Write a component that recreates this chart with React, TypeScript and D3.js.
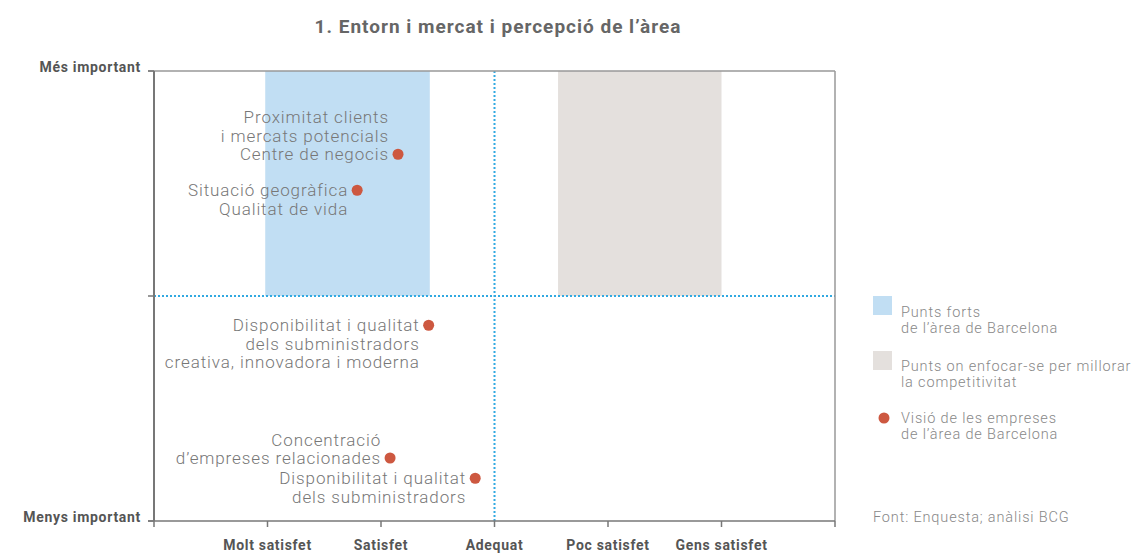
import React from "react";
import * as d3 from "d3";

const title = "1. Entorn i mercat i percepció de l’àrea";
const xTickLabels = ["Molt satisfet", "Satisfet", "Adequat", "Poc satisfet", "Gens satisfet"];
const xTickValues = [1, 2, 3, 4, 5];
const yTickLabels = ["Menys important", "", "Més important"];
const yTickValues = [0, 1, 2];

// shaded zones [x0, x1, y0, y1]
const strengthZone = [0.98, 2.43, 1, 2];
const focusZone = [3.56, 5, 1, 2];

// points: satisfaction (x), importance (y)
const pointX = [2.15, 1.79, 2.42, 2.08, 2.83];
const pointY = [1.63, 1.47, 0.87, 0.28, 0.19];
const pointLabels = [
  ["Proximitat clients", "i mercats potencials", "Centre de negocis"],
  ["Situació geogràfica", "Qualitat de vida"],
  ["Disponibilitat i qualitat", "dels subministradors", "creativa, innovadora i moderna"],
  ["Concentració", "d’empreses relacionades"],
  ["Disponibilitat i qualitat", "dels subministradors"],
];
// which label line sits level with the point
const pointAnchorLine = [2, 0, 0, 1, 0];

const legendLabels = [
  ["Punts forts", "de l’àrea de Barcelona"],
  ["Punts on enfocar-se per millorar", "la competitivitat"],
  ["Visió de les empreses", "de l’àrea de Barcelona"],
];
const sourceText = "Font: Enquesta; anàlisi BCG";

export default function App() {
  const W = 1140, H = 553;
  const left = 154, right = 835, top = 71, bottom = 521;
  const x = d3.scaleLinear().domain([0, 6]).range([left, right]);
  const y = d3.scaleLinear().domain([0, 2]).range([bottom, top]);
  const font = "Roboto, 'DejaVu Sans', sans-serif";
  const dotColor = "#31a9e1";
  const red = "#cd5840";
  const lineH = 18.5;

  return (
    <svg width={W} height={H} style={{ position: "absolute", left: 0, top: 0, background: "#fff" }} fontFamily={font}>
      <text x={498} y={33} textAnchor="middle" fontSize={19} fontWeight={700} fill="#666" letterSpacing={1}>{title}</text>

      {/* zones */}
      <rect x={x(strengthZone[0])} y={y(strengthZone[3])} width={x(strengthZone[1]) - x(strengthZone[0])} height={y(strengthZone[2]) - y(strengthZone[3])} fill="#c1def3" />
      <rect x={x(focusZone[0])} y={y(focusZone[3])} width={x(focusZone[1]) - x(focusZone[0])} height={y(focusZone[2]) - y(focusZone[3])} fill="#e4e0dd" />

      {/* dotted center lines */}
      <line x1={x(3)} x2={x(3)} y1={y(2)} y2={y(0)} stroke={dotColor} strokeWidth={2} strokeDasharray="2,2" />
      <line x1={x(0)} x2={x(6)} y1={y(1)} y2={y(1)} stroke={dotColor} strokeWidth={2} strokeDasharray="2,2" />

      {/* frame */}
      <line x1={left - 6} x2={right} y1={top} y2={top} stroke="#999" strokeWidth={1.5} />
      <line x1={right} x2={right} y1={top} y2={bottom} stroke="#999" strokeWidth={1.5} />
      <line x1={left} x2={left} y1={top} y2={bottom} stroke="#777" strokeWidth={2} />
      <line x1={left - 6} x2={right} y1={bottom} y2={bottom} stroke="#777" strokeWidth={1.5} />

      {/* y ticks */}
      {yTickValues.map((v, i) => (
        <g key={"yt" + i}>
          <line x1={left - 6} x2={left} y1={y(v)} y2={y(v)} stroke="#777" strokeWidth={1.5} />
          {yTickLabels[i] && (
            <text x={141} y={y(v) + 1} textAnchor="end" fontSize={14} fontWeight={700} fill="#555" letterSpacing={0.7}>{yTickLabels[i]}</text>
          )}
        </g>
      ))}

      {/* x ticks */}
      {x.ticks(6).map((v) => (
        <line key={"xt" + v} x1={x(v)} x2={x(v)} y1={bottom} y2={bottom + 6} stroke="#777" strokeWidth={1.5} />
      ))}
      {xTickValues.map((v, i) => (
        <text key={"xl" + i} x={x(v)} y={550} textAnchor="middle" fontSize={14} fontWeight={700} fill="#555" letterSpacing={0.7}>{xTickLabels[i]}</text>
      ))}

      {/* points and labels */}
      {pointX.map((px, i) => {
        const cx = x(px), cy = y(pointY[i]);
        const a = pointAnchorLine[i];
        return (
          <g key={"p" + i}>
            <circle cx={cx} cy={cy} r={5.5} fill={red} />
            {pointLabels[i].map((t, j) => (
              <text key={j} x={cx - 9} y={cy + 6 + (j - a) * lineH} textAnchor="end" fontSize={17} fontWeight={300} fill="#777" letterSpacing={0.9}>{t}</text>
            ))}
          </g>
        );
      })}

      {/* legend */}
      <rect x={873} y={296} width={19} height={19} fill="#c1def3" />
      <rect x={873} y={351} width={19} height={19} fill="#e4e0dd" />
      <circle cx={884} cy={418} r={5.5} fill={red} />
      {legendLabels.map((lines, i) => (
        <g key={"lg" + i}>
          {lines.map((t, j) => (
            <text key={j} x={901} y={[317, 371, 423][i] + j * 16} fontSize={14.5} fontWeight={300} fill="#888" letterSpacing={0.85}>{t}</text>
          ))}
        </g>
      ))}
      <text x={873} y={522} fontSize={14.5} fontWeight={300} fill="#888" letterSpacing={0.85}>{sourceText}</text>
    </svg>
  );
}
